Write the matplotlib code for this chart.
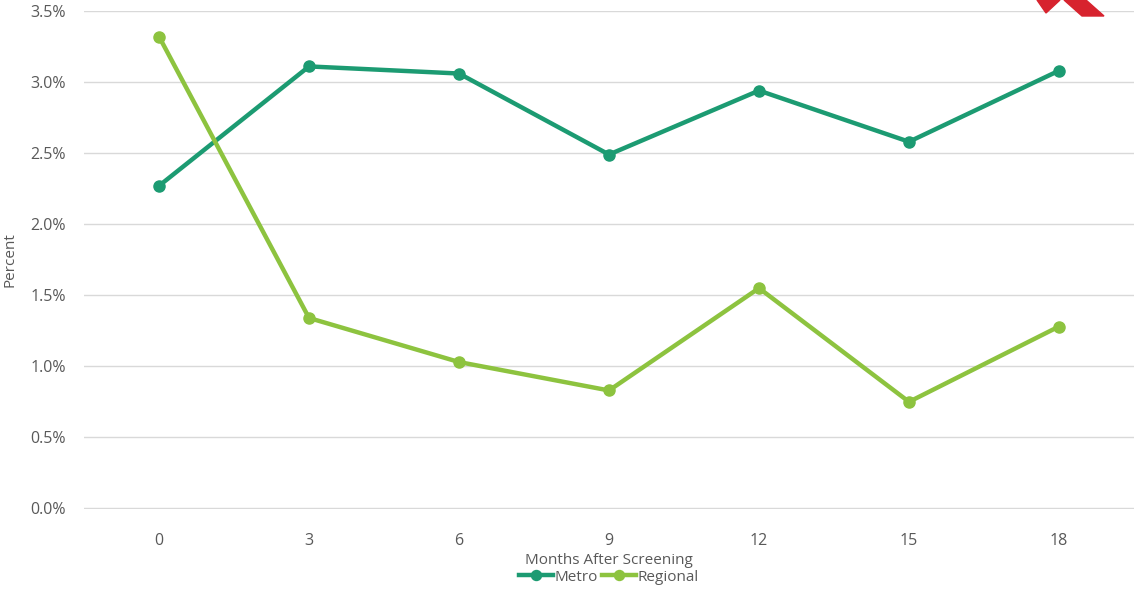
import matplotlib.pyplot as plt
from matplotlib.patches import Polygon

# Данные
months = ['0', '3', '6', '9', '12', '15', '18']
metro = [2.27, 3.11, 3.06, 2.49, 2.94, 2.58, 3.08]
regional = [3.32, 1.34, 1.03, 0.83, 1.55, 0.75, 1.28]
y_ticks = [0.0, 0.5, 1.0, 1.5, 2.0, 2.5, 3.0, 3.5]

metro_color = '#1c9b72'
regional_color = '#8dc33f'
text_color = '#595959'

plt.rcParams['font.family'] = ['Open Sans', 'DejaVu Sans']

fig = plt.figure(figsize=(11.34, 5.94), dpi=100)
ax = fig.add_axes([0.0741, 0.1431, 0.9259, 0.8384])

x = list(range(len(months)))
ax.plot(x, metro, color=metro_color, lw=3.2, marker='o', ms=8, label='Metro')
ax.plot(x, regional, color=regional_color, lw=3.2, marker='o', ms=8, label='Regional')

ax.set_xlim(-0.5, len(months) - 0.5)
ax.set_ylim(-0.004, 3.5)
ax.set_yticks(y_ticks)
ax.set_yticklabels(['%.1f%%' % v for v in y_ticks])
ax.set_xticks(x)
ax.set_xticklabels(months)
ax.tick_params(length=0, labelsize=11.5, colors=text_color, pad=17)
ax.tick_params(axis='y', pad=13)
ax.grid(axis='y', color='#d9d9d9', lw=1)
ax.set_axisbelow(True)
for s in ax.spines.values():
    s.set_visible(False)

ax.set_ylabel('Percent', fontsize=11, color=text_color)
ax.yaxis.set_label_coords(-0.063, 0.5)
ax.set_xlabel('Months After Screening', fontsize=11, color=text_color, va='center')
ax.xaxis.set_label_coords(0.5, -0.103)

ax.legend(loc='center', bbox_to_anchor=(0.5, -0.137), ncol=2, frameon=False,
          fontsize=11, labelcolor=text_color, handlelength=2.2, handletextpad=0.1,
          columnspacing=0.3, borderpad=0, markerscale=0.9)

# Красный фрагмент логотипа в правом верхнем углу
W, H = 1134.0, 594.0
def px(pts):
    return [(a / W, 1 - b / H) for a, b in pts]
fig.patches.append(Polygon(px([(1037, 0), (1060, 0), (1046, 13)]), closed=True,
                           transform=fig.transFigure, color='#d7232e'))
fig.patches.append(Polygon(px([(1064, 0), (1086, 0), (1104, 16), (1082, 16)]), closed=True,
                           transform=fig.transFigure, color='#d7232e'))

fig.savefig('out.png', dpi=100)
